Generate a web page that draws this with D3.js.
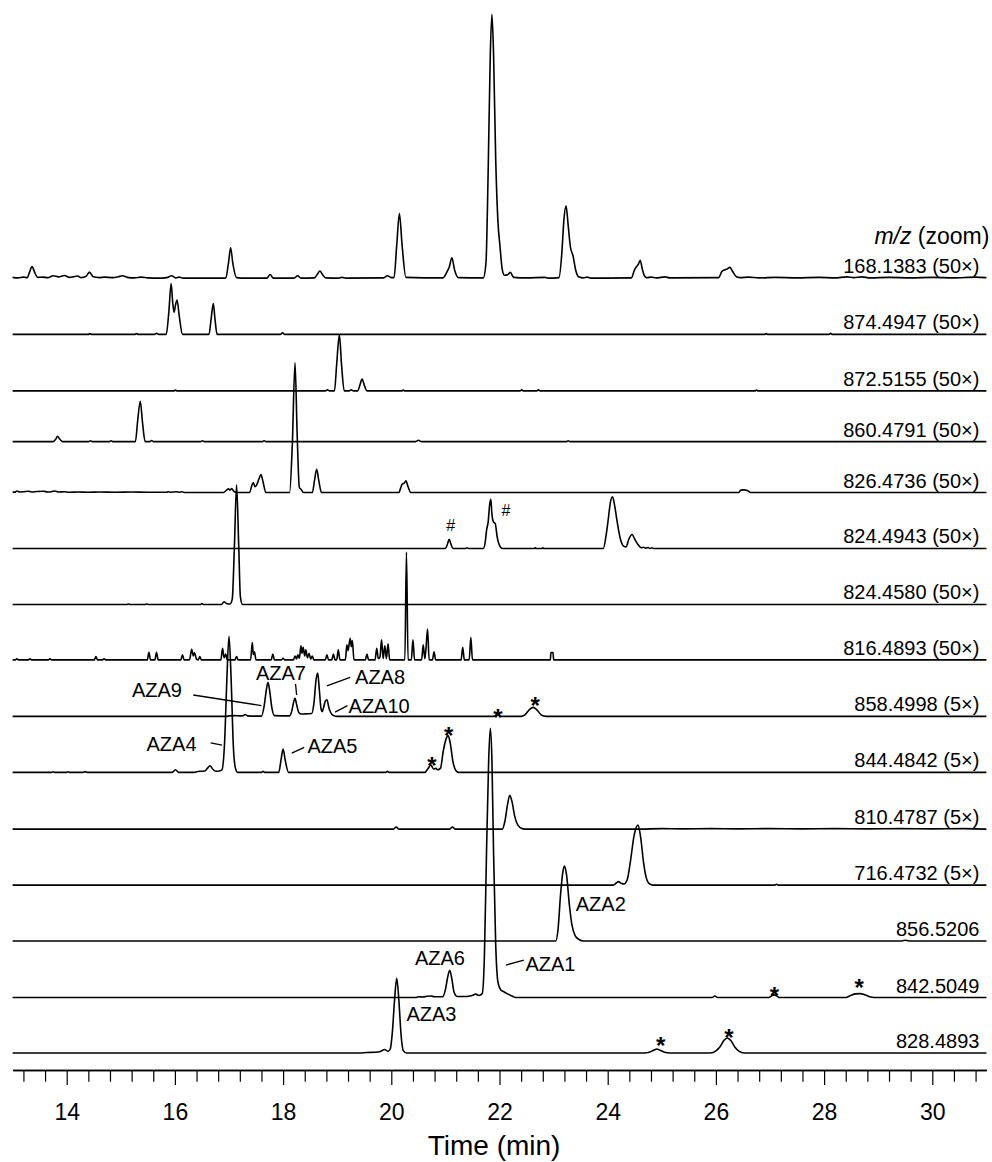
<!DOCTYPE html>
<html>
<head>
<meta charset="utf-8">
<script src="https://cdn.jsdelivr.net/npm/d3@7"></script>
<style>
  body { margin: 0; background: #fff; }
  svg { display: block; background: #fff; }
  text { font-family: "Liberation Sans", Arial, Helvetica, sans-serif; fill: #000; }
</style>
</head>
<body>
<svg id="chart" width="992" height="1162"></svg>
<script>
// ---- Extracted ion chromatograms: [retention time (min), relative intensity (%)] ----
const eic168 = [
  [13.00,0.4],[13.10,0.2],[13.20,0.5],[13.27,0.3],[13.31,2.2],[13.36,4.5],[13.41,2.2],[13.46,0.4],
  [13.55,0.5],[13.65,0.3],[13.75,1.0],[13.85,0.6],[13.96,1.1],[14.05,0.4],[14.12,0.6],[14.20,0.9],
  [14.27,0.3],[14.36,0.8],[14.42,2.4],[14.49,0.6],[14.60,0.3],[14.70,0.5],[14.85,0.3],[14.95,0.6],
  [15.03,1.0],[15.12,0.4],[15.25,0.2],[15.38,0.5],[15.50,0.2],[15.70,0.1],[15.85,0.3],[15.94,1.0],
  [16.02,0.2],[16.08,0.5],[16.15,0.1],[16.90,0.1],
  [16.94,0.2],[16.99,5.8],[17.03,11.6],[17.07,5.8],[17.14,0.3],
  [17.30,0.1],[17.70,0.1],[17.76,1.5],[17.82,0.1],[18.20,0.1],[18.27,1.0],[18.33,0.1],
  [18.58,0.2],[18.64,1.8],[18.68,2.8],[18.73,1.4],[18.79,0.2],[19.02,0.1],[19.09,0.4],[19.16,0.1],
  [19.85,0.2],[19.93,1.0],[20.00,0.3],
  [20.05,0.3],[20.10,12.5],[20.15,24.6],[20.20,12.5],[20.27,0.4],
  [20.95,0.2],[21.03,2.5],[21.07,4.2],[21.12,7.8],[21.17,3.2],[21.24,0.3],
  [21.70,0.2],[21.75,6],[21.79,40],[21.83,85],[21.86,100],[21.89,85],[21.93,45],[21.97,22],
  [22.01,12],[22.05,3.5],[22.09,1.2],[22.15,1.4],[22.20,2.3],[22.26,0.4],
  [22.50,0.2],[22.84,0.4],[22.90,0.1],
  [23.10,0.3],[23.15,9],[23.19,22],[23.23,27.5],[23.27,20],[23.31,12],[23.36,8.5],[23.41,3],
  [23.47,0.5],[23.55,0.2],[23.62,0.5],[23.70,0.1],
  [24.44,0.2],[24.49,3],[24.53,4.4],[24.57,5.5],[24.60,6.9],[24.64,3.5],[24.68,1.0],[24.72,0.3],
  [24.80,0.5],[24.90,0.2],[25.06,0.6],[25.15,0.2],
  [26.05,0.3],[26.11,2.6],[26.17,3.3],[26.21,3.6],[26.26,4.2],[26.31,2.6],[26.38,0.6],[26.45,0.3],
  [26.60,0.5],[26.80,0.2],[27.10,0.4],[27.50,0.2],[27.90,0.4],[28.20,0.2],[28.42,0.6],[28.55,0.3],
  [28.70,0.6],[28.85,0.2],[29.20,0.4],[29.60,0.2],[30.00,0.4],[30.40,0.2],[30.80,0.5],[31.00,0.3]
];

const eic874 = [
  [13.00,0],[14.40,0],[14.43,0.3],[14.46,0],[15.26,0],[15.29,0.3],[15.32,0],[15.62,0],[15.66,0.4],[15.70,0],
  [15.84,0],[15.89,9],[15.93,19.3],[15.96,12],[15.985,8.4],[16.01,11],[16.04,13],[16.08,7],[16.14,0],
  [16.63,0],[16.67,6],[16.71,11.7],[16.74,6],[16.78,0],
  [17.95,0],[17.99,0.6],[18.03,0],[26.90,0],[26.93,0.3],[26.96,0],[28.09,0],[28.12,0.4],[28.15,0],[31.00,0]
];

const eic872 = [
  [13.00,0],[15.98,0],[16.01,0.3],[16.04,0],[18.78,0],[18.82,0.4],[18.86,0],
  [18.95,0],[18.99,10],[19.04,21.2],[19.08,10],[19.13,0],[19.22,0],[19.26,0.4],[19.30,0],
  [19.38,0],[19.42,2.2],[19.46,4.5],[19.50,2.2],[19.55,0],[20.19,0],[20.22,0.3],[20.25,0],
  [22.38,0],[22.41,0.4],[22.44,0],[22.69,0],[22.72,0.4],[22.75,0],[26.72,0],[26.75,0.3],[26.78,0],[31.00,0]
];

const eic860 = [
  [13.00,0],[13.75,0],[13.80,1.0],[13.83,2.0],[13.87,1.0],[13.92,0],[14.41,0],[14.44,0.3],[14.47,0],
  [14.79,0],[14.82,0.3],[14.85,0],[15.27,0],[15.31,7.5],[15.36,15.3],[15.40,7.5],[15.45,0],
  [15.54,0],[15.57,0.4],[15.60,0],[16.48,0],[16.51,0.3],[16.54,0],[17.62,0],[17.65,0.3],[17.68,0],
  [20.45,0],[20.50,0.5],[20.55,0],[23.24,0],[23.27,0.3],[23.30,0],[31.00,0]
];

const eic826 = [
  [13.00,0.3],[13.04,0.1],[13.08,0.6],[13.13,0.2],[13.20,0.3],[13.29,0.5],[13.35,0.2],[13.45,0.4],
  [13.57,0.5],[13.65,0.2],[13.72,0.3],[13.78,0.6],[13.85,0.2],[13.95,0.3],[14.05,0.1],[14.20,0.2],
  [14.40,0.1],[14.60,0.2],[14.90,0.1],[15.20,0.2],[15.50,0.1],[15.85,0.1],[15.88,0.4],[15.91,0.1],
  [16.03,0.3],[16.08,0.1],[16.13,0.3],[16.18,0],
  [16.90,0],[16.95,0.8],[16.99,1.4],[17.02,0.9],[17.05,1.5],[17.09,0.4],[17.14,0],
  [17.38,0],[17.42,2.5],[17.45,3.8],[17.48,2.2],[17.51,2.8],[17.56,5.5],[17.59,6.8],[17.63,4],[17.68,0],
  [18.12,0],[18.17,18],[18.22,49.1],[18.26,22],[18.30,2],[18.34,1.0],[18.38,0],
  [18.54,0],[18.58,4.5],[18.62,8.8],[18.66,4.5],[18.71,0],
  [20.14,0],[20.18,2.2],[20.20,3.1],[20.24,3.6],[20.27,4.4],[20.31,2.2],[20.36,0],
  [26.42,0],[26.46,0.9],[26.52,1.0],[26.58,0.8],[26.64,0],[31.00,0]
];

const eic824a = [
  [13.00,0],[21.00,0],[21.04,1.8],[21.07,3.5],[21.10,1.8],[21.14,0],[21.37,0],[21.40,0.3],[21.43,0],
  [21.70,0],[21.74,3],[21.76,6.8],[21.79,10],[21.82,17],[21.84,18.6],[21.86,13],[21.89,10],[21.92,9.5],
  [21.96,4],[22.02,0.5],[22.06,0],
  [22.64,0],[22.66,0.3],[22.68,0],[22.78,0],[22.80,0.3],[22.82,0],
  [23.92,0],[23.97,5],[24.01,11],[24.05,17.5],[24.09,19.6],[24.13,16],[24.18,9.5],[24.23,4],[24.30,0.8],
  [24.34,0.6],[24.39,3.5],[24.45,5.3],[24.50,3.5],[24.56,1.5],[24.62,0.3],[24.66,0.5],[24.70,0.1],
  [24.75,0.4],[24.78,0],[24.82,0.3],[24.85,0],[31.00,0]
];

const eic824b = [
  [13.00,0],[15.11,0],[15.14,0.2],[15.17,0],[15.45,0],[15.48,0.2],[15.51,0],[16.47,0],[16.50,0.3],[16.53,0],
  [16.86,0],[16.91,1.0],[16.96,0.3],[17.02,0.2],[17.06,2],[17.10,22],[17.14,45.3],[17.18,22],[17.21,3],
  [17.25,0],[31.00,0]
];

const eic816 = [
  [13.00,0],[13.05,0],[13.08,0.4],[13.11,0],[13.29,0],[13.32,0.4],[13.35,0],[13.66,0],[13.69,0.4],[13.72,0],
  [14.51,0],[14.54,1.25],[14.57,0],[14.66,0],[14.69,0.4],[14.72,0],
  [15.49,0],[15.52,2.9],[15.55,0],[15.63,0],[15.66,2.9],[15.69,0],
  [16.11,0],[16.14,1.9],[16.17,0],[16.27,0],[16.31,4.0],[16.34,1.5],[16.36,2.65],[16.40,0.3],[16.43,0],
  [16.46,1.25],[16.49,0],
  [16.85,0],[16.88,4.4],[16.91,0.8],[16.94,2.2],[16.97,0],[17.11,0],[17.14,1.25],[17.17,0],
  [17.40,0],[17.43,6.6],[17.45,2.0],[17.47,3.1],[17.50,0],[17.78,0],[17.81,2.2],[17.84,0],
  [17.97,0],[18.00,0.6],[18.03,0],
  [18.19,0],[18.22,1.5],[18.25,0.4],[18.27,1.9],[18.30,0.6],[18.33,5.3],[18.35,2.5],[18.37,4.8],
  [18.40,1.5],[18.42,3.8],[18.45,0.8],[18.48,2.5],[18.51,0.3],[18.54,1.5],[18.57,0],
  [18.78,0],[18.81,1.9],[18.84,0],[18.90,0],[18.93,2.2],[18.96,0],[18.99,0],[19.02,3.8],[19.05,0],
  [19.15,0],[19.18,5.7],[19.20,3.5],[19.24,8.2],[19.26,5.0],[19.28,7.3],[19.31,0],
  [19.52,0],[19.55,2.2],[19.58,0],
  [19.70,0],[19.73,4.4],[19.76,0.5],[19.79,1.0],[19.82,7.6],[19.85,0.5],[19.88,5.3],[19.91,0.5],
  [19.94,6.1],[19.97,0],
  [20.25,0],[20.28,40.9],[20.31,0],[20.37,0],[20.40,7.6],[20.43,0],
  [20.56,0],[20.59,5.7],[20.62,0.5],[20.64,4],[20.67,11.7],[20.70,0],[20.76,0],[20.79,3.1],[20.82,0],
  [21.29,0],[21.32,4.8],[21.35,0],[21.44,0],[21.47,8.6],[21.50,0],
  [22.94,0],[22.95,2.8],[22.99,2.8],[23.00,0],[31.00,0]
];

const eic858 = [
  [13.00,0],[16.95,0],[17.00,0.2],[17.10,0.3],[17.20,0.2],[17.26,0.3],[17.30,0.7],[17.34,0.2],[17.45,0.1],
  [17.60,0.1],[17.65,4],[17.69,10],[17.72,12.9],[17.75,10],[17.79,3.5],[17.84,0.3],
  [18.12,0.2],[18.16,2],[18.19,5],[18.22,6.9],[18.25,4.5],[18.29,1.5],[18.34,0.9],[18.45,1.0],
  [18.53,1.1],[18.57,5],[18.61,14],[18.64,16.4],[18.67,10],[18.70,3],[18.72,1.8],[18.75,3.5],
  [18.78,5.8],[18.81,6.3],[18.85,3],[18.90,0.8],[18.95,0.2],[19.00,0],
  [21.90,0],[21.96,0.8],[22.02,0],[22.40,0],[22.47,0.6],[22.55,2.5],[22.62,3.4],[22.69,2.5],
  [22.77,0.6],[22.86,0],[31.00,0]
];

const eic844 = [
  [13.00,0],[13.72,0],[13.75,0.2],[13.78,0],[14.00,0],[14.02,0.2],[14.05,0],[14.30,0],[14.34,0.2],[14.38,0],
  [15.95,0],[16.01,1.0],[16.07,0],[16.35,0],[16.45,0.4],[16.55,0.5],[16.60,1.5],[16.65,2.5],[16.70,1.2],
  [16.76,0.4],[16.82,0.5],[16.87,1],[16.92,12],[16.96,35],[17.00,51.5],[17.04,35],[17.08,10],[17.12,1.5],
  [17.16,0],[17.60,0],[17.63,0.4],[17.66,0],[17.92,0],[17.96,4.5],[18.00,8.8],[18.04,4.5],[18.10,0],
  [19.90,0],[19.93,0.4],[19.96,0],[20.62,0],[20.68,1.5],[20.73,2.8],[20.78,1.3],[20.82,1.5],[20.86,1.0],
  [20.91,1.6],[20.96,8],[21.01,12.5],[21.05,13.9],[21.09,11],[21.14,4],[21.20,0.5],[21.24,0],[31.00,0]
];

const eic810 = [
  [13.00,0],[20.04,0],[20.09,0.8],[20.14,0],[21.08,0],[21.13,0.8],[21.18,0],
  [22.05,0],[22.10,3],[22.15,9.5],[22.19,12.8],[22.23,10.5],[22.28,5],[22.34,1.5],[22.42,0.2],[22.50,0],
  [24.60,0],[25.00,0.2],[25.40,0.1],[25.90,0.2],[26.40,0.1],[27.00,0.2],[27.60,0.1],[28.20,0.2],
  [28.80,0.1],[29.40,0.2],[30.00,0.1],[30.60,0.2],[31.00,0]
];

const eic716 = [
  [13.00,0],[24.10,0],[24.16,0.8],[24.20,1.3],[24.25,0.7],[24.30,0.4],[24.36,2],[24.42,9],[24.49,19],
  [24.56,22.7],[24.61,18],[24.66,9],[24.71,3],[24.77,0.5],[24.84,0],[27.09,0],[27.12,0.3],[27.15,0],[31.00,0]
];

const eic856 = [
  [13.00,0],[23.04,0],[23.08,4],[23.13,18],[23.17,26],[23.20,28.4],[23.24,25],[23.29,14],[23.34,6],
  [23.40,2],[23.47,0.6],[23.55,0],[29.40,0],[29.50,0.3],[29.60,0],[31.00,0]
];

const eic842 = [
  [13.00,0],[20.45,0],[20.50,0.3],[20.58,0.2],[20.66,0.5],[20.73,0.6],[20.80,0.3],[20.95,0.3],
  [21.00,3],[21.04,7.5],[21.08,10.3],[21.12,7],[21.16,2],[21.22,0.4],[21.35,0.4],[21.45,0.6],
  [21.52,1.0],[21.56,1.3],[21.62,0.8],[21.68,1.5],[21.72,15],[21.76,55],[21.80,90],[21.83,102],
  [21.86,90],[21.89,55],[21.93,20],[21.97,6],[22.02,3],[22.08,2.2],[22.15,1.4],[22.25,0.4],[22.30,0],
  [25.93,0],[25.98,0.6],[26.03,0],[26.98,0],[27.04,0.8],[27.08,1.0],[27.12,0.7],[27.18,0],
  [28.40,0],[28.50,0.9],[28.58,1.4],[28.66,1.5],[28.74,1.2],[28.84,0.3],[28.92,0],[31.00,0]
];

const eic828 = [
  [13.00,0],[19.40,0],[19.55,0.2],[19.70,0.3],[19.80,0.6],[19.88,1.3],[19.94,0.6],[19.98,1.5],
  [20.02,8],[20.06,20],[20.10,28.3],[20.14,20],[20.18,7],[20.22,1],[20.28,0],
  [24.60,0],[24.75,0.2],[24.85,1.0],[24.91,1.5],[24.97,1.0],[25.05,0.3],[25.15,0],
  [25.90,0],[26.00,0.8],[26.08,2.5],[26.15,4.8],[26.21,5.7],[26.28,4.6],[26.35,2.3],[26.43,0.6],
  [26.52,0],[31.00,0]
];

// Trace labels (m/z and display zoom), top to bottom
const traceLabels = [
  "168.1383 (50×)", "874.4947 (50×)", "872.5155 (50×)", "860.4791 (50×)", "826.4736 (50×)",
  "824.4943 (50×)", "824.4580 (50×)", "816.4893 (50×)", "858.4998 (5×)", "844.4842 (5×)",
  "810.4787 (5×)", "716.4732 (5×)", "856.5206", "842.5049", "828.4893"
];
const traceData = [
  eic168, eic874, eic872, eic860, eic826, eic824a, eic824b, eic816,
  eic858, eic844, eic810, eic716, eic856, eic842, eic828
];

// Axis ticks
const majorTicks = [14, 16, 18, 20, 22, 24, 26, 28, 30];
const xTitle = "Time (min)";

// Peak annotations: trace index, anchor position (time, intensity above trace baseline), optional leader line
const peakLabels = [
  { text: "AZA9",  trace: 8,  t: 16.13, v: 7.3,  anchor: "end",    leader: [[16.34, 8.1], [17.60, 4.1]] },
  { text: "AZA7",  trace: 8,  t: 17.96, v: 13.6, anchor: "middle", leader: [[18.23, 12.3], [18.25, 8.1]] },
  { text: "AZA8",  trace: 8,  t: 19.33, v: 12.2, anchor: "start",  leader: [[18.81, 11.6], [19.24, 14.8]] },
  { text: "AZA10", trace: 8,  t: 19.21, v: 1.4,  anchor: "start",  leader: [[18.96, 1.6], [19.19, 4.1]] },
  { text: "AZA4",  trace: 9,  t: 16.40, v: 8.1,  anchor: "end",    leader: [[16.66, 11.2], [16.87, 10.3]] },
  { text: "AZA5",  trace: 9,  t: 18.45, v: 7.5,  anchor: "start",  leader: [[18.16, 7.3], [18.39, 9.5]] },
  { text: "AZA2",  trace: 12, t: 23.41, v: 11.5, anchor: "start",  leader: null },
  { text: "AZA6",  trace: 13, t: 20.90, v: 12.3, anchor: "middle", leader: null },
  { text: "AZA1",  trace: 13, t: 22.48, v: 10.2, anchor: "start",  leader: [[22.12, 12.3], [22.45, 14.2]] },
  { text: "AZA3",  trace: 14, t: 20.28, v: 12.2, anchor: "start",  leader: null }
];

// Marker symbols above peaks (centre of symbol)
const peakMarks = [
  { sym: "*", trace: 8,  t: 21.97, v: 1.4 }, { sym: "*", trace: 8,  t: 22.66, v: 6.0 },
  { sym: "*", trace: 9,  t: 20.75, v: 4.7 }, { sym: "*", trace: 9,  t: 21.06, v: 16.1 },
  { sym: "*", trace: 13, t: 27.08, v: 2.8 }, { sym: "*", trace: 13, t: 28.65, v: 5.8 },
  { sym: "*", trace: 14, t: 24.98, v: 4.9 }, { sym: "*", trace: 14, t: 26.24, v: 7.7 },
  { sym: "#", trace: 5,  t: 21.10, v: 8.9 }, { sym: "#", trace: 5,  t: 22.12, v: 14.6 }
];

// ---- Layout ----
// vertical stacking offset of each trace, in intensity units
const stackOffset = [293.4, 272.2, 250.8, 231.6, 212.3, 191.1, 169.9, 148.9, 127.5, 106.3, 84.8, 63.6, 42.4, 21.0, 0];

const svg = d3.select("#chart");

const x = d3.scaleLinear().domain([13, 31]).range([12.6, 986.4]);
const y = d3.scaleLinear().domain([0, 400]).range([1053, 1053 - 400 * 2.64]);

const line = d3.line().curve(d3.curveMonotoneX);

const traces = svg.append("g").attr("class", "traces");
traceData.forEach((data, i) => {
  const off = stackOffset[i];
  traces.append("path")
    .datum(data)
    .attr("fill", "none")
    .attr("stroke", "#000")
    .attr("stroke-width", 1.6)
    .attr("stroke-linejoin", "round")
    .attr("d", line.x(d => x(d[0])).y(d => y(off + d[1])));
});

// m/z labels on the right
svg.append("g").selectAll("text")
  .data(traceLabels)
  .join("text")
  .attr("x", x(31) - 7)
  .attr("y", (d, i) => y(stackOffset[i]) - 5)
  .attr("text-anchor", "end")
  .attr("font-size", 20)
  .text(d => d);

// column header
const hdr = svg.append("text")
  .attr("x", x(31) + 3)
  .attr("y", y(stackOffset[0]) - 34)
  .attr("text-anchor", "end")
  .attr("font-size", 23);
hdr.append("tspan").attr("font-style", "italic").text("m/z");
hdr.append("tspan").text(" (zoom)");

// peak annotations
const ann = svg.append("g");
peakLabels.forEach(p => {
  const off = stackOffset[p.trace];
  ann.append("text")
    .attr("x", x(p.t))
    .attr("y", y(off + p.v))
    .attr("text-anchor", p.anchor)
    .attr("font-size", 20)
    .text(p.text);
  if (p.leader) {
    ann.append("line")
      .attr("x1", x(p.leader[0][0])).attr("y1", y(off + p.leader[0][1]))
      .attr("x2", x(p.leader[1][0])).attr("y2", y(off + p.leader[1][1]))
      .attr("stroke", "#000").attr("stroke-width", 1.3);
  }
});

peakMarks.forEach(m => {
  const star = m.sym === "*";
  const off = stackOffset[m.trace];
  const fs = star ? 24 : 16;
  const shift = star ? fs * 0.57 : fs * 0.36;
  ann.append("text")
    .attr("x", x(m.t))
    .attr("y", y(off + m.v) + shift)
    .attr("text-anchor", "middle")
    .attr("font-size", fs)
    .attr("font-weight", star ? "bold" : "normal")
    .text(m.sym);
});

// ---- Time axis ----
const axisY = 1070;
const minorTicks = d3.range(13.2, 30.81, 0.4).filter(t => Math.abs(t - Math.round(t)) > 0.05 || Math.round(t) % 2 !== 0);

const gMinor = svg.append("g").attr("transform", `translate(0,${axisY})`)
  .call(d3.axisBottom(x).tickValues(minorTicks).tickSize(11.7).tickSizeOuter(0).tickFormat(""));
const gMajor = svg.append("g").attr("transform", `translate(0,${axisY})`)
  .call(d3.axisBottom(x).tickValues(majorTicks).tickSize(15).tickSizeOuter(0).tickPadding(19).tickFormat(d3.format("d")));

[gMinor, gMajor].forEach(g => {
  g.select(".domain").attr("stroke", "#000").attr("stroke-width", 1.5);
  g.selectAll(".tick line").attr("stroke", "#000").attr("stroke-width", 1.2);
});
gMajor.selectAll(".tick text")
  .attr("font-size", 23)
  .attr("font-family", "'Liberation Sans', Arial, sans-serif")
  .attr("fill", "#000");

svg.append("text")
  .attr("x", x(21.9))
  .attr("y", 1155)
  .attr("text-anchor", "middle")
  .attr("font-size", 28)
  .text(xTitle);
</script>
</body>
</html>
